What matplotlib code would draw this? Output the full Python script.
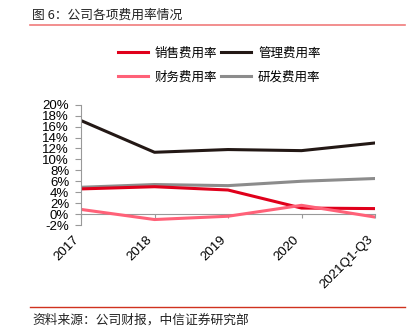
import matplotlib
matplotlib.use("Agg")
import matplotlib.pyplot as plt
from matplotlib.lines import Line2D

# data (percent)
years = ["2017", "2018", "2019", "2020", "2021Q1-Q3"]
sales_rate = [4.6, 5.0, 4.4, 1.1, 1.0]
admin_rate = [17.1, 11.3, 11.8, 11.6, 13.0]
finance_rate = [0.85, -1.0, -0.4, 1.6, -0.55]
rnd_rate = [4.9, 5.4, 5.2, 6.0, 6.5]
yticks = list(range(-2, 21, 2))

cjk = ['Noto Sans CJK SC', 'DejaVu Sans']
latin = ['Liberation Sans', 'DejaVu Sans']

fig = plt.figure(figsize=(4.15, 3.35), dpi=100)
ax = fig.add_axes([81 / 415, 1 - 225 / 335, (375 - 81) / 415, (225 - 104.7) / 335])

x = range(len(years))
l_rnd, = ax.plot(x, rnd_rate, color='#8c8c8c', lw=2.2, label='研发费用率')
l_sales, = ax.plot(x, sales_rate, color='#e0001b', lw=2.2, label='销售费用率')
l_fin, = ax.plot(x, finance_rate, color='#ff6178', lw=2.2, label='财务费用率')
l_admin, = ax.plot(x, admin_rate, color='#231815', lw=2.2, label='管理费用率')

ax.set_xlim(0, len(years) - 1)
ax.set_ylim(-2, 20)
ax.set_yticks(yticks)
ax.set_yticklabels([f"{v}%" for v in yticks], fontfamily=latin, fontsize=9.5)

for s in ['top', 'right']:
    ax.spines[s].set_visible(False)
ax.spines['left'].set_color('#999999')
ax.spines['left'].set_linewidth(0.8)
ax.spines['bottom'].set_position(('data', 0))
ax.spines['bottom'].set_color('#999999')
ax.spines['bottom'].set_linewidth(0.8)
ax.spines['bottom'].set_zorder(0)

ax.set_xticks(list(x))
ax.set_xticklabels(years, rotation=45, ha='right', va='top',
                   fontfamily=latin, fontsize=9.5)
ax.tick_params(axis='x', direction='out', length=3, width=0.8,
               color='#999999', pad=11)
ax.tick_params(axis='y', direction='out', length=4, width=0.8,
               color='#999999', pad=4.5)

# legend: two rows, two columns
handles = [l_sales, l_fin, l_admin, l_rnd]
fig.legend(handles=handles, labels=[h.get_label() for h in handles],
           ncol=2, loc='center left', bbox_to_anchor=(118 / 415, 1 - 65 / 335),
           frameon=False, prop={'family': cjk, 'size': 9},
           handlelength=2.4, handletextpad=0.55, columnspacing=0.3,
           labelspacing=0.85, borderpad=0, borderaxespad=0)

# title and source with separator lines
fig.text(32 / 415, 1 - 15 / 335, '图 6：公司各项费用率情况', family=cjk,
         fontsize=9.2, va='center', ha='left', color='#222222')
fig.add_artist(Line2D([30 / 415, 405 / 415], [1 - 24.5 / 335] * 2,
                      color='#f07c7c', lw=1.2))
fig.add_artist(Line2D([30 / 415, 405 / 415], [1 - 307 / 335] * 2,
                      color='#d0321e', lw=1.0))
fig.text(32 / 415, 1 - 320 / 335, '资料来源：公司财报，中信证券研究部', family=cjk,
         fontsize=9.2, va='center', ha='left', color='#222222')

fig.savefig('out.png', dpi=100)
